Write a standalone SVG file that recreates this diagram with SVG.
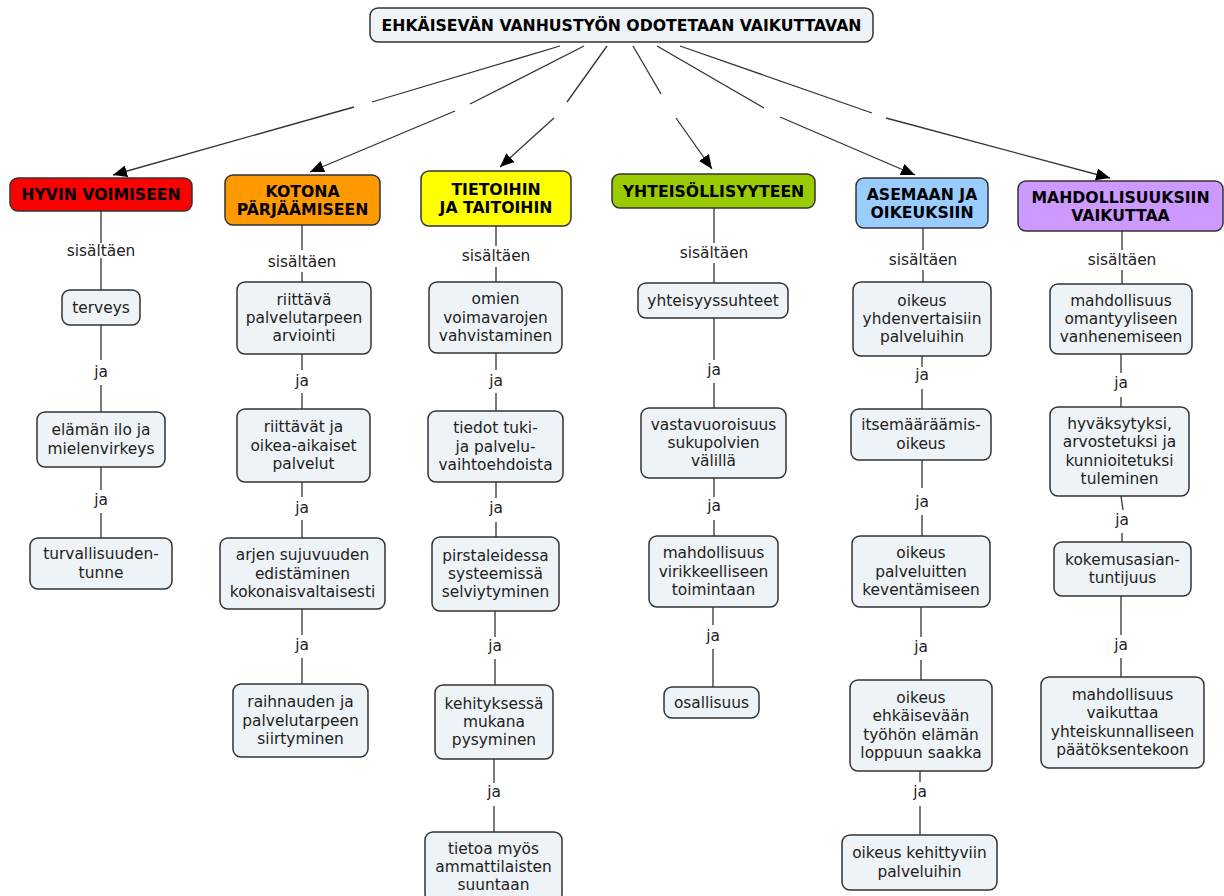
<svg xmlns="http://www.w3.org/2000/svg" width="1224" height="896" viewBox="0 0 1224 896">
<defs>
<marker id="arr" markerUnits="userSpaceOnUse" markerWidth="15" markerHeight="12" refX="14" refY="6" orient="auto">
<path d="M0,0 L14,6 L0,12 z" fill="#000"/>
</marker>
<style>
.n rect{fill:#edf3f6;stroke:#333;stroke-width:1.5}
.c rect{stroke:#333;stroke-width:1.5}
text{font-family:"DejaVu Sans",Verdana,sans-serif;text-anchor:middle;fill:#222}
.n text{font-size:15.4px}
.c text,#root text{font-size:15.7px;font-weight:bold;fill:#000}
.lbl{font-size:15.4px;fill:#222}
#connectors line{stroke:#333;stroke-width:1.3;fill:none}
</style>
</defs>
<rect width="1224" height="896" fill="#fff"/>
<g id="connectors">
<line x1="560" y1="46" x2="372" y2="102"/><line x1="354" y1="107" x2="113" y2="175" marker-end="url(#arr)"/>
<line x1="584" y1="46" x2="470" y2="104"/><line x1="455" y1="111" x2="310" y2="172" marker-end="url(#arr)"/>
<line x1="607" y1="46" x2="567" y2="102"/><line x1="554" y1="118" x2="500" y2="167" marker-end="url(#arr)"/>
<line x1="633" y1="46" x2="661" y2="94"/><line x1="676" y1="118" x2="712" y2="169" marker-end="url(#arr)"/>
<line x1="657" y1="46" x2="764" y2="108"/><line x1="780" y1="117" x2="915" y2="175" marker-end="url(#arr)"/>
<line x1="680" y1="46" x2="872" y2="113"/><line x1="886" y1="118" x2="1110" y2="178" marker-end="url(#arr)"/>
<line x1="101" y1="211" x2="101" y2="243"/><line x1="101" y1="258" x2="101" y2="290"/>
<line x1="101" y1="325" x2="101" y2="360"/><line x1="101" y1="385" x2="101" y2="412"/>
<line x1="101" y1="467" x2="101" y2="490"/><line x1="101" y1="513" x2="101" y2="538"/>
<line x1="302" y1="225" x2="302" y2="250"/><line x1="302" y1="272" x2="302" y2="282"/>
<line x1="302" y1="354" x2="302" y2="370"/><line x1="302" y1="393" x2="302" y2="409"/>
<line x1="302" y1="482" x2="302" y2="497"/><line x1="302" y1="520" x2="302" y2="538"/>
<line x1="302" y1="609" x2="302" y2="635"/><line x1="302" y1="658" x2="302" y2="684"/>
<line x1="496" y1="226" x2="496" y2="246"/><line x1="496" y1="267" x2="496" y2="282"/>
<line x1="496" y1="353" x2="496" y2="370"/><line x1="496" y1="393" x2="496" y2="411"/>
<line x1="496" y1="482" x2="496" y2="498"/><line x1="496" y1="522" x2="496" y2="537"/>
<line x1="495" y1="611" x2="495" y2="637"/><line x1="495" y1="659" x2="495" y2="685"/>
<line x1="494" y1="759" x2="494" y2="783"/><line x1="494" y1="806" x2="494" y2="832"/>
<line x1="714" y1="208" x2="714" y2="243"/><line x1="714" y1="263" x2="714" y2="283"/>
<line x1="714" y1="318" x2="714" y2="360"/><line x1="714" y1="383" x2="714" y2="408"/>
<line x1="714" y1="478" x2="714" y2="497"/><line x1="714" y1="520" x2="714" y2="536"/>
<line x1="713" y1="607" x2="713" y2="625"/><line x1="713" y1="649" x2="713" y2="687"/>
<line x1="923" y1="228" x2="923" y2="250"/><line x1="923" y1="270" x2="923" y2="282"/>
<line x1="922" y1="356" x2="922" y2="367"/><line x1="922" y1="389" x2="922" y2="409"/>
<line x1="922" y1="460" x2="922" y2="488"/><line x1="922" y1="515" x2="922" y2="536"/>
<line x1="921" y1="607" x2="921" y2="637"/><line x1="921" y1="660" x2="921" y2="680"/>
<line x1="920" y1="771" x2="920" y2="782"/><line x1="920" y1="806" x2="920" y2="835"/>
<line x1="1122" y1="231" x2="1122" y2="250"/><line x1="1122" y1="270" x2="1122" y2="284"/>
<line x1="1121" y1="354" x2="1121" y2="373"/><line x1="1121" y1="397" x2="1121" y2="407"/>
<line x1="1121" y1="496" x2="1123" y2="510"/><line x1="1122" y1="533" x2="1122" y2="542"/>
<line x1="1121" y1="596" x2="1121" y2="635"/><line x1="1121" y1="658" x2="1121" y2="677"/>
<text class="lbl" x="101" y="256">sisältäen</text>
<text class="lbl" x="101" y="377">ja</text>
<text class="lbl" x="101" y="505">ja</text>
<text class="lbl" x="302" y="267">sisältäen</text>
<text class="lbl" x="302" y="386">ja</text>
<text class="lbl" x="302" y="513">ja</text>
<text class="lbl" x="302" y="650">ja</text>
<text class="lbl" x="496" y="261">sisältäen</text>
<text class="lbl" x="496" y="386">ja</text>
<text class="lbl" x="496" y="513">ja</text>
<text class="lbl" x="495" y="651">ja</text>
<text class="lbl" x="494" y="797">ja</text>
<text class="lbl" x="714" y="258">sisältäen</text>
<text class="lbl" x="714" y="375">ja</text>
<text class="lbl" x="714" y="511">ja</text>
<text class="lbl" x="713" y="641">ja</text>
<text class="lbl" x="923" y="265">sisältäen</text>
<text class="lbl" x="922" y="380">ja</text>
<text class="lbl" x="922" y="507">ja</text>
<text class="lbl" x="921" y="652">ja</text>
<text class="lbl" x="920" y="797">ja</text>
<text class="lbl" x="1122" y="265">sisältäen</text>
<text class="lbl" x="1121" y="388">ja</text>
<text class="lbl" x="1122" y="525">ja</text>
<text class="lbl" x="1121" y="650">ja</text>
</g>
<g id="root"><rect x="370" y="8" width="503" height="34" rx="8" fill="#edf3f6" stroke="#333" stroke-width="1.5"/><text x="621.5" y="30.7">EHKÄISEVÄN VANHUSTYÖN ODOTETAAN VAIKUTTAVAN</text></g>
<g id="c1" class="c"><rect x="10" y="178" width="182" height="33" rx="8" fill="#ff0000"/><text x="101" y="200">HYVIN VOIMISEEN</text></g>
<g id="c2" class="c"><rect x="225" y="175" width="155" height="50" rx="8" fill="#ff9900"/><text x="302.5" y="196.5">KOTONA</text><text x="302.5" y="214.8">PÄRJÄÄMISEEN</text></g>
<g id="c3" class="c"><rect x="421" y="171" width="150" height="55" rx="8" fill="#ffff00"/><text x="496" y="195">TIETOIHIN</text><text x="496" y="213.3">JA TAITOIHIN</text></g>
<g id="c4" class="c"><rect x="612" y="174" width="203" height="34" rx="8" fill="#99cc00"/><text x="713.5" y="196.6">YHTEISÖLLISYYTEEN</text></g>
<g id="c5" class="c"><rect x="856" y="178" width="132" height="50" rx="8" fill="#99ccff"/><text x="922" y="199.5">ASEMAAN JA</text><text x="922" y="217.8">OIKEUKSIIN</text></g>
<g id="c6" class="c"><rect x="1018" y="181" width="205" height="50" rx="8" fill="#cc99ff"/><text x="1120.5" y="202.5">MAHDOLLISUUKSIIN</text><text x="1120.5" y="220.8">VAIKUTTAA</text></g>
<g id="n1a" class="n"><rect x="62" y="290" width="78" height="35" rx="8"/><text x="101" y="312.5">terveys</text></g>
<g id="n1b" class="n"><rect x="37" y="412" width="128" height="55" rx="8"/><text x="101" y="435.4">elämän ilo ja</text><text x="101" y="453.7">mielenvirkeys</text></g>
<g id="n1c" class="n"><rect x="30" y="538" width="142" height="51" rx="8"/><text x="101" y="559.4">turvallisuuden-</text><text x="101" y="577.7">tunne</text></g>
<g id="n2a" class="n"><rect x="237" y="282" width="134" height="72" rx="8"/><text x="304" y="304.7">riittävä</text><text x="304" y="323">palvelutarpeen</text><text x="304" y="341.3">arviointi</text></g>
<g id="n2b" class="n"><rect x="237" y="409" width="133" height="73" rx="8"/><text x="303.5" y="432.2">riittävät ja</text><text x="303.5" y="450.5">oikea-aikaiset</text><text x="303.5" y="468.8">palvelut</text></g>
<g id="n2c" class="n"><rect x="220" y="538" width="165" height="71" rx="8"/><text x="302.5" y="560.2">arjen sujuvuuden</text><text x="302.5" y="578.5">edistäminen</text><text x="302.5" y="596.8">kokonaisvaltaisesti</text></g>
<g id="n2d" class="n"><rect x="233" y="684" width="135" height="73" rx="8"/><text x="300.5" y="707.2">raihnauden ja</text><text x="300.5" y="725.5">palvelutarpeen</text><text x="300.5" y="743.8">siirtyminen</text></g>
<g id="n3a" class="n"><rect x="429" y="282" width="133" height="71" rx="8"/><text x="495.5" y="304.2">omien</text><text x="495.5" y="322.5">voimavarojen</text><text x="495.5" y="340.8">vahvistaminen</text></g>
<g id="n3b" class="n"><rect x="428" y="411" width="135" height="71" rx="8"/><text x="495.5" y="433.2">tiedot tuki-</text><text x="495.5" y="451.5">ja palvelu-</text><text x="495.5" y="469.8">vaihtoehdoista</text></g>
<g id="n3c" class="n"><rect x="432" y="537" width="127" height="74" rx="8"/><text x="495.5" y="560.7">pirstaleidessa</text><text x="495.5" y="579">systeemissä</text><text x="495.5" y="597.3">selviytyminen</text></g>
<g id="n3d" class="n"><rect x="435" y="685" width="118" height="74" rx="8"/><text x="494" y="708.7">kehityksessä</text><text x="494" y="727">mukana</text><text x="494" y="745.3">pysyminen</text></g>
<g id="n3e" class="n"><rect x="425" y="832" width="137" height="70" rx="8"/><text x="493.5" y="853.7">tietoa myös</text><text x="493.5" y="872">ammattilaisten</text><text x="493.5" y="890.3">suuntaan</text></g>
<g id="n4a" class="n"><rect x="638" y="283" width="150" height="35" rx="8"/><text x="713" y="305.5">yhteisyyssuhteet</text></g>
<g id="n4b" class="n"><rect x="641" y="408" width="145" height="70" rx="8"/><text x="713.5" y="429.7">vastavuoroisuus</text><text x="713.5" y="448">sukupolvien</text><text x="713.5" y="466.3">välillä</text></g>
<g id="n4c" class="n"><rect x="649" y="536" width="129" height="71" rx="8"/><text x="713.5" y="558.2">mahdollisuus</text><text x="713.5" y="576.5">virikkeelliseen</text><text x="713.5" y="594.8">toimintaan</text></g>
<g id="n4d" class="n"><rect x="664" y="687" width="95" height="31" rx="8"/><text x="711.5" y="707.5">osallisuus</text></g>
<g id="n5a" class="n"><rect x="853" y="282" width="138" height="74" rx="8"/><text x="922" y="305.7">oikeus</text><text x="922" y="324">yhdenvertaisiin</text><text x="922" y="342.3">palveluihin</text></g>
<g id="n5b" class="n"><rect x="851" y="409" width="140" height="51" rx="8"/><text x="921" y="430.4">itsemääräämis-</text><text x="921" y="448.6">oikeus</text></g>
<g id="n5c" class="n"><rect x="852" y="536" width="138" height="71" rx="8"/><text x="921" y="558.2">oikeus</text><text x="921" y="576.5">palveluitten</text><text x="921" y="594.8">keventämiseen</text></g>
<g id="n5d" class="n"><rect x="850" y="680" width="142" height="91" rx="8"/><text x="921" y="703">oikeus</text><text x="921" y="721.3">ehkäisevään</text><text x="921" y="739.6">työhön elämän</text><text x="921" y="757.9">loppuun saakka</text></g>
<g id="n5e" class="n"><rect x="842" y="835" width="155" height="55" rx="8"/><text x="919.5" y="858.4">oikeus kehittyviin</text><text x="919.5" y="876.6">palveluihin</text></g>
<g id="n6a" class="n"><rect x="1050" y="284" width="142" height="70" rx="8"/><text x="1121" y="305.7">mahdollisuus</text><text x="1121" y="324">omantyyliseen</text><text x="1121" y="342.3">vanhenemiseen</text></g>
<g id="n6b" class="n"><rect x="1050" y="407" width="139" height="89" rx="8"/><text x="1119.5" y="429">hyväksytyksi,</text><text x="1119.5" y="447.4">arvostetuksi ja</text><text x="1119.5" y="465.7">kunnioitetuksi</text><text x="1119.5" y="484">tuleminen</text></g>
<g id="n6c" class="n"><rect x="1054" y="542" width="137" height="54" rx="8"/><text x="1122.5" y="564.9">kokemusasian-</text><text x="1122.5" y="583.2">tuntijuus</text></g>
<g id="n6d" class="n"><rect x="1041" y="677" width="163" height="91" rx="8"/><text x="1122.5" y="700">mahdollisuus</text><text x="1122.5" y="718.4">vaikuttaa</text><text x="1122.5" y="736.7">yhteiskunnalliseen</text><text x="1122.5" y="755">päätöksentekoon</text></g>
</svg>
